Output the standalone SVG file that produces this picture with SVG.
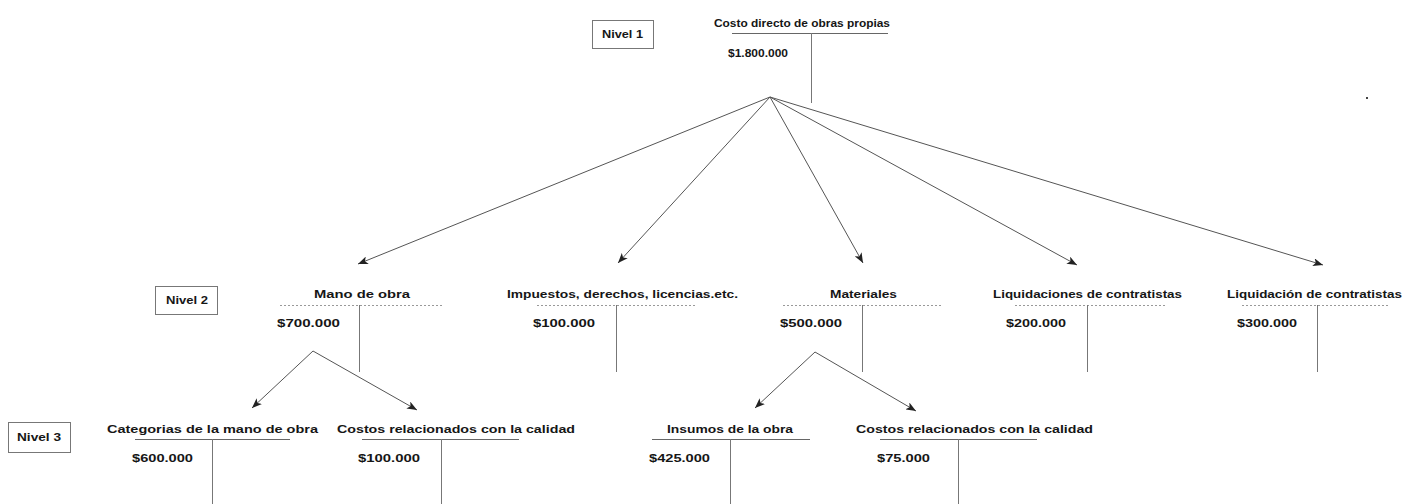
<svg xmlns="http://www.w3.org/2000/svg" width="1412" height="504" viewBox="0 0 1412 504">
  <style>
    .t { font-family: "Liberation Sans", Arial, sans-serif; font-weight: bold; font-size: 11.5px; fill: #161616; }
    .v { font-family: "Liberation Sans", Arial, sans-serif; font-weight: bold; font-size: 11.5px; fill: #161616; }
    .ul { stroke: #666; stroke-width: 1; fill: none; }
    .ul2 { stroke: #999; stroke-width: 1; fill: none; stroke-dasharray: 2 2; }
    .stem { stroke: #777; stroke-width: 1; fill: none; }
    .box { fill: #fff; stroke: #777; stroke-width: 1; }
    .edge { stroke: #555; stroke-width: 1; fill: none; marker-end: url(#arrow); }
  </style>
  <defs>
    <marker id="arrow" markerUnits="userSpaceOnUse" markerWidth="10" markerHeight="8" refX="10" refY="4" orient="auto">
      <path d="M0,0 L10,4 L0,8 L2.5,4 z" fill="#222"/>
    </marker>
  </defs>
  <rect width="1412" height="504" fill="#fff"/>

  <!-- level labels -->
  <g id="nivel1">
    <rect class="box" x="592.5" y="20.5" width="61" height="28"/>
    <text class="t" x="602" y="38" textLength="41" lengthAdjust="spacingAndGlyphs">Nivel 1</text>
  </g>
  <g id="nivel2">
    <rect class="box" x="155.5" y="286.5" width="62" height="28"/>
    <text class="t" x="166" y="304" textLength="42" lengthAdjust="spacingAndGlyphs">Nivel 2</text>
  </g>
  <g id="nivel3">
    <rect class="box" x="8.5" y="422.5" width="62" height="30"/>
    <text class="t" x="17" y="441" textLength="44" lengthAdjust="spacingAndGlyphs">Nivel 3</text>
  </g>

  <!-- root -->
  <g id="costo-directo">
    <text class="t" x="714" y="27" textLength="176" lengthAdjust="spacingAndGlyphs">Costo directo de obras propias</text>
    <line class="ul" x1="732" y1="33.5" x2="888" y2="33.5"/>
    <line class="stem" x1="811.5" y1="33" x2="811.5" y2="103"/>
    <text class="v" x="728" y="57" textLength="60" lengthAdjust="spacingAndGlyphs">$1.800.000</text>
  </g>

  <!-- level 2 -->
  <g id="mano-de-obra">
    <text class="t" x="314" y="298" textLength="96" lengthAdjust="spacingAndGlyphs">Mano de obra</text>
    <line class="ul2" x1="280" y1="305.5" x2="444" y2="305.5"/>
    <line class="stem" x1="359.5" y1="305" x2="359.5" y2="372"/>
    <text class="v" x="277" y="327" textLength="63" lengthAdjust="spacingAndGlyphs">$700.000</text>
  </g>
  <g id="impuestos">
    <text class="t" x="507" y="298" textLength="231" lengthAdjust="spacingAndGlyphs">Impuestos, derechos, licencias.etc.</text>
    <line class="ul2" x1="537" y1="305.5" x2="695" y2="305.5"/>
    <line class="stem" x1="616.5" y1="305" x2="616.5" y2="372"/>
    <text class="v" x="533" y="327" textLength="62" lengthAdjust="spacingAndGlyphs">$100.000</text>
  </g>
  <g id="materiales">
    <text class="t" x="830" y="298" textLength="67" lengthAdjust="spacingAndGlyphs">Materiales</text>
    <line class="ul2" x1="783" y1="305.5" x2="941" y2="305.5"/>
    <line class="stem" x1="862.5" y1="305" x2="862.5" y2="372"/>
    <text class="v" x="780" y="327" textLength="62" lengthAdjust="spacingAndGlyphs">$500.000</text>
  </g>
  <g id="liquidaciones-contratistas">
    <text class="t" x="993" y="298" textLength="189" lengthAdjust="spacingAndGlyphs">Liquidaciones de contratistas</text>
    <line class="ul2" x1="1015" y1="305.5" x2="1165" y2="305.5"/>
    <line class="stem" x1="1087.5" y1="305" x2="1087.5" y2="372"/>
    <text class="v" x="1006" y="327" textLength="60" lengthAdjust="spacingAndGlyphs">$200.000</text>
  </g>
  <g id="liquidacion-contratistas">
    <text class="t" x="1227" y="298" textLength="175" lengthAdjust="spacingAndGlyphs">Liquidación de contratistas</text>
    <line class="ul2" x1="1242" y1="305.5" x2="1390" y2="305.5"/>
    <line class="stem" x1="1317.5" y1="305" x2="1317.5" y2="372"/>
    <text class="v" x="1237" y="327" textLength="60" lengthAdjust="spacingAndGlyphs">$300.000</text>
  </g>

  <!-- level 3 -->
  <g id="categorias-mano-obra">
    <text class="t" x="107" y="433" textLength="211" lengthAdjust="spacingAndGlyphs">Categorias de la mano de obra</text>
    <line class="ul" x1="135" y1="439.5" x2="290" y2="439.5"/>
    <line class="stem" x1="212.5" y1="439" x2="212.5" y2="504"/>
    <text class="v" x="132" y="462" textLength="61" lengthAdjust="spacingAndGlyphs">$600.000</text>
  </g>
  <g id="calidad-mano-obra">
    <text class="t" x="337" y="433" textLength="238" lengthAdjust="spacingAndGlyphs">Costos relacionados con la calidad</text>
    <line class="ul" x1="362" y1="439.5" x2="519" y2="439.5"/>
    <line class="stem" x1="441.5" y1="439" x2="441.5" y2="504"/>
    <text class="v" x="358" y="462" textLength="62" lengthAdjust="spacingAndGlyphs">$100.000</text>
  </g>
  <g id="insumos-obra">
    <text class="t" x="667" y="433" textLength="126" lengthAdjust="spacingAndGlyphs">Insumos de la obra</text>
    <line class="ul" x1="652" y1="439.5" x2="810" y2="439.5"/>
    <line class="stem" x1="730.5" y1="439" x2="730.5" y2="504"/>
    <text class="v" x="649" y="462" textLength="61" lengthAdjust="spacingAndGlyphs">$425.000</text>
  </g>
  <g id="calidad-materiales">
    <text class="t" x="856" y="433" textLength="237" lengthAdjust="spacingAndGlyphs">Costos relacionados con la calidad</text>
    <line class="ul" x1="880" y1="439.5" x2="1037" y2="439.5"/>
    <line class="stem" x1="958.5" y1="439" x2="958.5" y2="504"/>
    <text class="v" x="877" y="462" textLength="53" lengthAdjust="spacingAndGlyphs">$75.000</text>
  </g>

  <!-- connectors -->
  <g id="connectors">
    <line class="edge" x1="770" y1="97" x2="358" y2="264"/>
    <line class="edge" x1="770" y1="97" x2="618" y2="263"/>
    <line class="edge" x1="770" y1="97" x2="863" y2="263"/>
    <line class="edge" x1="770" y1="97" x2="1077" y2="265"/>
    <line class="edge" x1="770" y1="97" x2="1323" y2="265"/>
    <line class="edge" x1="313" y1="351" x2="252" y2="408"/>
    <line class="edge" x1="313" y1="351" x2="417" y2="410"/>
    <line class="edge" x1="815" y1="352" x2="755" y2="408"/>
    <line class="edge" x1="815" y1="352" x2="916" y2="411"/>
  </g>

  <!-- stray speck -->
  <rect x="1366" y="97" width="2" height="2" fill="#444"/>
</svg>
